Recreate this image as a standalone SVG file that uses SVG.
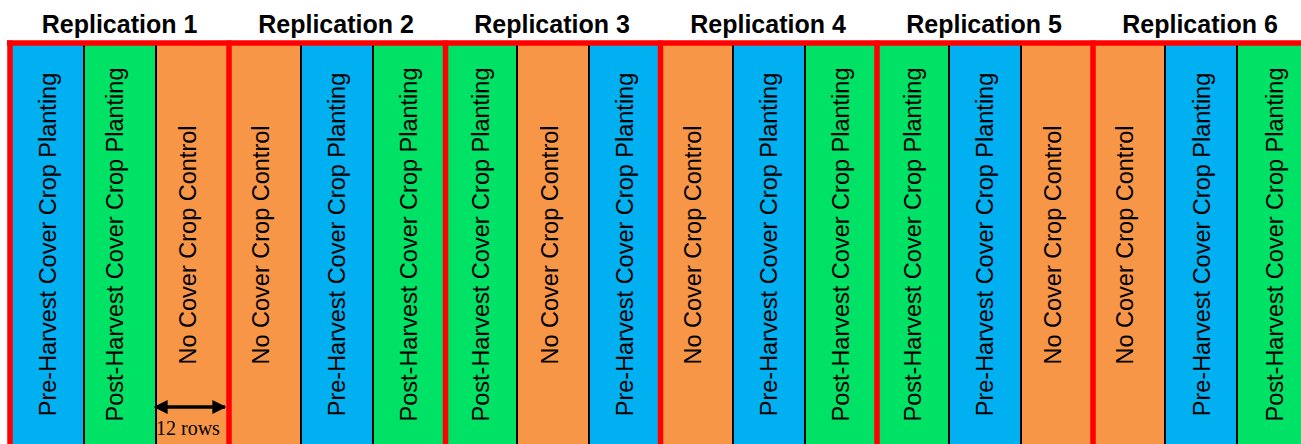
<svg xmlns="http://www.w3.org/2000/svg" width="1301" height="444" viewBox="0 0 1301 444">
<style>
.pre{fill:#00B0F0}
.post{fill:#00E266}
.no{fill:#F79646}
.div{stroke:#000;stroke-width:2}
.red{stroke:#FF0000;stroke-width:5.5;fill:none}
.lbl{font-family:"Liberation Sans",Arial,sans-serif;font-size:23.5px;fill:#000;text-anchor:middle}
.hd{font-family:"Liberation Sans",Arial,sans-serif;font-size:25px;font-weight:bold;fill:#000;text-anchor:middle}
.rows{font-family:"Liberation Serif","Times New Roman",serif;font-size:20px;fill:#000}
</style>
<defs>
<marker id="ah" viewBox="0 0 10 10" refX="9" refY="5" markerWidth="4" markerHeight="4.5" orient="auto-start-reverse" markerUnits="strokeWidth">
<path d="M0,0 L10,5 L0,10 z" fill="#000"/>
</marker>
</defs>
<rect width="1301" height="444" fill="#fff"/>
<g id="headings">
<text class="hd" x="119.5" y="33">Replication 1</text>
<text class="hd" x="336" y="33">Replication 2</text>
<text class="hd" x="552" y="33">Replication 3</text>
<text class="hd" x="768" y="33">Replication 4</text>
<text class="hd" x="984" y="33">Replication 5</text>
<text class="hd" x="1200" y="33">Replication 6</text>
</g>
<g id="rep1">
<g id="c1"><rect class="pre" x="12" y="44" width="72" height="400"/><text class="lbl" transform="translate(55.5,244.5) rotate(-90)">Pre-Harvest Cover Crop Planting</text></g>
<g id="c2"><rect class="post" x="84" y="44" width="72" height="400"/><text class="lbl" transform="translate(123,244.5) rotate(-90)">Post-Harvest Cover Crop Planting</text></g>
<g id="c3"><rect class="no" x="156" y="44" width="73" height="400"/><text class="lbl" transform="translate(196,245) rotate(-90)">No Cover Crop Control</text></g>
</g>
<g id="rep2">
<g id="c4"><rect class="no" x="229" y="44" width="72" height="400"/><text class="lbl" transform="translate(268.5,245) rotate(-90)">No Cover Crop Control</text></g>
<g id="c5"><rect class="pre" x="301" y="44" width="72" height="400"/><text class="lbl" transform="translate(344.5,244.5) rotate(-90)">Pre-Harvest Cover Crop Planting</text></g>
<g id="c6"><rect class="post" x="373" y="44" width="72" height="400"/><text class="lbl" transform="translate(417,244.5) rotate(-90)">Post-Harvest Cover Crop Planting</text></g>
</g>
<g id="rep3">
<g id="c7"><rect class="post" x="445" y="44" width="72" height="400"/><text class="lbl" transform="translate(489,244.5) rotate(-90)">Post-Harvest Cover Crop Planting</text></g>
<g id="c8"><rect class="no" x="517" y="44" width="72" height="400"/><text class="lbl" transform="translate(557.5,245) rotate(-90)">No Cover Crop Control</text></g>
<g id="c9"><rect class="pre" x="589" y="44" width="72" height="400"/><text class="lbl" transform="translate(633,244.5) rotate(-90)">Pre-Harvest Cover Crop Planting</text></g>
</g>
<g id="rep4">
<g id="c10"><rect class="no" x="661" y="44" width="72" height="400"/><text class="lbl" transform="translate(701,245) rotate(-90)">No Cover Crop Control</text></g>
<g id="c11"><rect class="pre" x="733" y="44" width="72" height="400"/><text class="lbl" transform="translate(777,244.5) rotate(-90)">Pre-Harvest Cover Crop Planting</text></g>
<g id="c12"><rect class="post" x="805" y="44" width="72" height="400"/><text class="lbl" transform="translate(849,244.5) rotate(-90)">Post-Harvest Cover Crop Planting</text></g>
</g>
<g id="rep5">
<g id="c13"><rect class="post" x="877" y="44" width="72" height="400"/><text class="lbl" transform="translate(921,244.5) rotate(-90)">Post-Harvest Cover Crop Planting</text></g>
<g id="c14"><rect class="pre" x="949" y="44" width="72" height="400"/><text class="lbl" transform="translate(993,244.5) rotate(-90)">Pre-Harvest Cover Crop Planting</text></g>
<g id="c15"><rect class="no" x="1021" y="44" width="72" height="400"/><text class="lbl" transform="translate(1061,245) rotate(-90)">No Cover Crop Control</text></g>
</g>
<g id="rep6">
<g id="c16"><rect class="no" x="1093" y="44" width="72" height="400"/><text class="lbl" transform="translate(1133,245) rotate(-90)">No Cover Crop Control</text></g>
<g id="c17"><rect class="pre" x="1165" y="44" width="72" height="400"/><text class="lbl" transform="translate(1210,244.5) rotate(-90)">Pre-Harvest Cover Crop Planting</text></g>
<g id="c18"><rect class="post" x="1237" y="44" width="72" height="400"/><text class="lbl" transform="translate(1283,244.5) rotate(-90)">Post-Harvest Cover Crop Planting</text></g>
</g>
<g id="dividers">
<line class="div" x1="84" y1="44" x2="84" y2="444"/>
<line class="div" x1="156" y1="44" x2="156" y2="444"/>
<line class="div" x1="301" y1="44" x2="301" y2="444"/>
<line class="div" x1="373" y1="44" x2="373" y2="444"/>
<line class="div" x1="517" y1="44" x2="517" y2="444"/>
<line class="div" x1="589" y1="44" x2="589" y2="444"/>
<line class="div" x1="733" y1="44" x2="733" y2="444"/>
<line class="div" x1="805" y1="44" x2="805" y2="444"/>
<line class="div" x1="949" y1="44" x2="949" y2="444"/>
<line class="div" x1="1021" y1="44" x2="1021" y2="444"/>
<line class="div" x1="1165" y1="44" x2="1165" y2="444"/>
<line class="div" x1="1237" y1="44" x2="1237" y2="444"/>
</g>
<g id="borders">
<line class="red" x1="7" y1="43" x2="1301" y2="43"/>
<line class="red" x1="10" y1="40.5" x2="10" y2="444"/>
<line class="red" x1="229" y1="40.5" x2="229" y2="444"/>
<line class="red" x1="445.5" y1="40.5" x2="445.5" y2="444"/>
<line class="red" x1="660.5" y1="40.5" x2="660.5" y2="444"/>
<line class="red" x1="877" y1="40.5" x2="877" y2="444"/>
<line class="red" x1="1093" y1="40.5" x2="1093" y2="444"/>
</g>
<g id="connectors">
<line x1="155" y1="407" x2="225" y2="407" stroke="#000" stroke-width="3.5" marker-start="url(#ah)" marker-end="url(#ah)"/>
</g>
<g id="annotation">
<text class="rows" x="156" y="435">12 rows</text>
</g>
</svg>
